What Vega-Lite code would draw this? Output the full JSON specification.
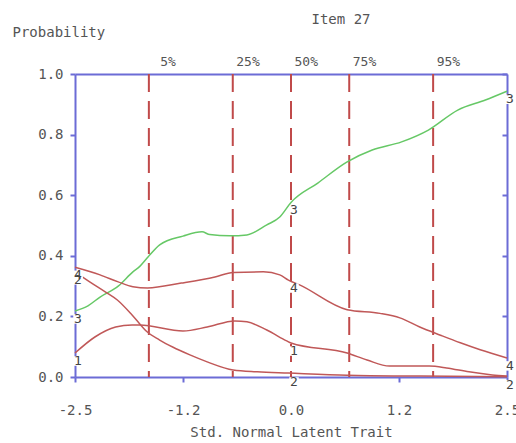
{
  "$schema": "https://vega.github.io/schema/vega-lite/v6.json",
  "width": 432,
  "height": 303,
  "autosize": {"type": "none"},
  "padding": {"left": 75, "top": 74, "right": 9, "bottom": 66},
  "background": "white",
  "config": {
    "view": {"stroke": null},
    "font": "DejaVu Sans Mono",
    "axis": {"domainColor": "#6c6cd6", "domainWidth": 2, "tickColor": "#6c6cd6", "tickWidth": 2, "grid": false,
             "labelFont": "DejaVu Sans Mono", "labelFontSize": 14, "labelColor": "#555555",
             "titleFont": "DejaVu Sans Mono", "titleFontSize": 14, "titleFontWeight": "normal", "titleColor": "#555555"}
  },
  "title": {"text": "Item 27", "font": "DejaVu Sans Mono", "fontSize": 14, "fontWeight": "normal", "color": "#555555", "anchor": "middle", "dx": 50, "offset": -2},
  "datasets": {
    "curves": [
      {"x": -2.5, "p": 0.218, "cat": "3"},
      {"x": -2.35, "p": 0.235, "cat": "3"},
      {"x": -2.21, "p": 0.264, "cat": "3"},
      {"x": -2.0, "p": 0.300, "cat": "3"},
      {"x": -1.83, "p": 0.347, "cat": "3"},
      {"x": -1.75, "p": 0.365, "cat": "3"},
      {"x": -1.655, "p": 0.396, "cat": "3"},
      {"x": -1.52, "p": 0.436, "cat": "3"},
      {"x": -1.25, "p": 0.465, "cat": "3"},
      {"x": -1.03, "p": 0.479, "cat": "3"},
      {"x": -0.94, "p": 0.470, "cat": "3"},
      {"x": -0.71, "p": 0.466, "cat": "3"},
      {"x": -0.51, "p": 0.469, "cat": "3"},
      {"x": -0.28, "p": 0.502, "cat": "3"},
      {"x": -0.13, "p": 0.528, "cat": "3"},
      {"x": 0.0, "p": 0.576, "cat": "3"},
      {"x": 0.31, "p": 0.640, "cat": "3"},
      {"x": 0.65, "p": 0.710, "cat": "3"},
      {"x": 0.94, "p": 0.749, "cat": "3"},
      {"x": 1.28, "p": 0.776, "cat": "3"},
      {"x": 1.59, "p": 0.815, "cat": "3"},
      {"x": 1.93, "p": 0.881, "cat": "3"},
      {"x": 2.25, "p": 0.914, "cat": "3"},
      {"x": 2.5, "p": 0.943, "cat": "3"},

      {"x": -2.5, "p": 0.362, "cat": "4"},
      {"x": -2.21, "p": 0.337, "cat": "4"},
      {"x": -2.0, "p": 0.314, "cat": "4"},
      {"x": -1.83, "p": 0.298, "cat": "4"},
      {"x": -1.66, "p": 0.294, "cat": "4"},
      {"x": -1.27, "p": 0.310, "cat": "4"},
      {"x": -0.88, "p": 0.330, "cat": "4"},
      {"x": -0.67, "p": 0.345, "cat": "4"},
      {"x": -0.32, "p": 0.347, "cat": "4"},
      {"x": -0.13, "p": 0.337, "cat": "4"},
      {"x": -0.03, "p": 0.320, "cat": "4"},
      {"x": 0.1, "p": 0.304, "cat": "4"},
      {"x": 0.65, "p": 0.222, "cat": "4"},
      {"x": 1.03, "p": 0.210, "cat": "4"},
      {"x": 1.26, "p": 0.195, "cat": "4"},
      {"x": 1.49, "p": 0.165, "cat": "4"},
      {"x": 1.73, "p": 0.138, "cat": "4"},
      {"x": 1.96, "p": 0.113, "cat": "4"},
      {"x": 2.19, "p": 0.090, "cat": "4"},
      {"x": 2.5, "p": 0.063, "cat": "4"},

      {"x": -2.5, "p": 0.079, "cat": "1"},
      {"x": -2.27, "p": 0.132, "cat": "1"},
      {"x": -2.03, "p": 0.165, "cat": "1"},
      {"x": -1.84, "p": 0.172, "cat": "1"},
      {"x": -1.75, "p": 0.172, "cat": "1"},
      {"x": -1.25, "p": 0.152, "cat": "1"},
      {"x": -0.97, "p": 0.165, "cat": "1"},
      {"x": -0.65, "p": 0.185, "cat": "1"},
      {"x": -0.51, "p": 0.182, "cat": "1"},
      {"x": -0.28, "p": 0.155, "cat": "1"},
      {"x": -0.05, "p": 0.119, "cat": "1"},
      {"x": 0.0, "p": 0.112, "cat": "1"},
      {"x": 0.65, "p": 0.079, "cat": "1"},
      {"x": 0.88, "p": 0.056, "cat": "1"},
      {"x": 1.14, "p": 0.036, "cat": "1"},
      {"x": 1.6, "p": 0.036, "cat": "1"},
      {"x": 1.8, "p": 0.030, "cat": "1"},
      {"x": 2.06, "p": 0.017, "cat": "1"},
      {"x": 2.33, "p": 0.007, "cat": "1"},
      {"x": 2.5, "p": 0.003, "cat": "1"},

      {"x": -2.5, "p": 0.347, "cat": "2"},
      {"x": -2.33, "p": 0.314, "cat": "2"},
      {"x": -2.15, "p": 0.281, "cat": "2"},
      {"x": -2.01, "p": 0.254, "cat": "2"},
      {"x": -1.86, "p": 0.211, "cat": "2"},
      {"x": -1.75, "p": 0.175, "cat": "2"},
      {"x": -1.67, "p": 0.150, "cat": "2"},
      {"x": -1.52, "p": 0.122, "cat": "2"},
      {"x": -1.37, "p": 0.099, "cat": "2"},
      {"x": -1.17, "p": 0.073, "cat": "2"},
      {"x": -0.97, "p": 0.050, "cat": "2"},
      {"x": -0.67, "p": 0.023, "cat": "2"},
      {"x": -0.39, "p": 0.017, "cat": "2"},
      {"x": -0.03, "p": 0.013, "cat": "2"},
      {"x": 0.65, "p": 0.006, "cat": "2"},
      {"x": 1.5, "p": 0.003, "cat": "2"},
      {"x": 2.5, "p": 0.001, "cat": "2"}
    ],
    "labels": [
      {"x": -2.5, "p": 0.347, "lab": "2"},
      {"x": -2.5, "p": 0.362, "lab": "4"},
      {"x": -2.5, "p": 0.218, "lab": "3"},
      {"x": -2.5, "p": 0.079, "lab": "1"},
      {"x": 0.0, "p": 0.576, "lab": "3"},
      {"x": 0.0, "p": 0.320, "lab": "4"},
      {"x": 0.0, "p": 0.112, "lab": "1"},
      {"x": 0.0, "p": 0.010, "lab": "2"},
      {"x": 2.5, "p": 0.943, "lab": "3"},
      {"x": 2.5, "p": 0.063, "lab": "4"},
      {"x": 2.5, "p": 0.001, "lab": "2"}
    ],
    "pct": [
      {"q": -1.645, "lab": "5%"},
      {"q": -0.674, "lab": "25%"},
      {"q": 0.0, "lab": "50%"},
      {"q": 0.674, "lab": "75%"},
      {"q": 1.645, "lab": "95%"}
    ]
  },
  "layer": [
    {
      "data": {"name": "pct"},
      "mark": {"type": "rule", "color": "#c04a4a", "strokeWidth": 2, "strokeDash": [18, 9]},
      "encoding": {
        "x": {"field": "q", "type": "quantitative", "scale": {"domain": [-2.5, 2.5], "nice": false, "zero": false}, "axis": null}
      }
    },
    {
      "data": {"name": "pct"},
      "mark": {"type": "text", "align": "right", "baseline": "middle", "dx": 27, "dy": -12, "font": "DejaVu Sans Mono", "fontSize": 13, "color": "#555555"},
      "encoding": {
        "x": {"field": "q", "type": "quantitative", "axis": {"orient": "top", "labels": false, "ticks": false, "title": null, "domain": true}},
        "y": {"datum": 1, "type": "quantitative", "axis": null},
        "text": {"field": "lab"}
      }
    },
    {
      "data": {"name": "curves"},
      "mark": {"type": "line", "strokeWidth": 1.5, "interpolate": "monotone"},
      "encoding": {
        "x": {"field": "x", "type": "quantitative",
              "axis": {"orient": "bottom", "values": [-2.5, -1.25, 0, 1.25, 2.5],
                       "labelExpr": "datum.value == -2.5 ? '-2.5' : datum.value == -1.25 ? '-1.2' : datum.value == 0 ? '0.0' : datum.value == 1.25 ? '1.2' : '2.5'",
                       "tickSize": 5, "labelPadding": 21, "labelOverlap": false, "labelFlush": false, "labelBound": false,
                       "title": "Std. Normal Latent Trait", "titlePadding": 8}},
        "y": {"field": "p", "type": "quantitative", "scale": {"domain": [0, 1], "nice": false},
              "axis": {"orient": "left", "values": [0, 0.2, 0.4, 0.6, 0.8, 1.0], "format": ".1f", "tickSize": 5, "labelPadding": 7,
                       "title": "Probability", "titleAngle": 0, "titleAlign": "left", "titleBaseline": "middle", "titleX": -63, "titleY": -42}},
        "color": {"field": "cat", "type": "nominal", "scale": {"domain": ["1", "2", "3", "4"], "range": ["#c05858", "#c05858", "#66c866", "#c05858"]}, "legend": null},
        "detail": {"field": "cat"}
      }
    },
    {
      "data": {"name": "labels"},
      "mark": {"type": "square", "filled": true, "color": "white", "opacity": 1, "size": 90, "xOffset": 3, "yOffset": 8},
      "encoding": {
        "x": {"field": "x", "type": "quantitative", "axis": null},
        "y": {"field": "p", "type": "quantitative",
              "axis": {"orient": "right", "values": [0.2, 0.4, 0.6, 0.8, 1.0], "labels": false, "tickSize": -5, "title": null, "domain": true}}
      }
    },
    {
      "data": {"name": "labels"},
      "mark": {"type": "text", "dx": 3, "dy": 8, "align": "center", "baseline": "middle", "font": "DejaVu Sans Mono", "fontSize": 13, "color": "#444444"},
      "encoding": {
        "x": {"field": "x", "type": "quantitative", "axis": null},
        "y": {"field": "p", "type": "quantitative", "axis": null},
        "text": {"field": "lab"}
      }
    }
  ]
}
